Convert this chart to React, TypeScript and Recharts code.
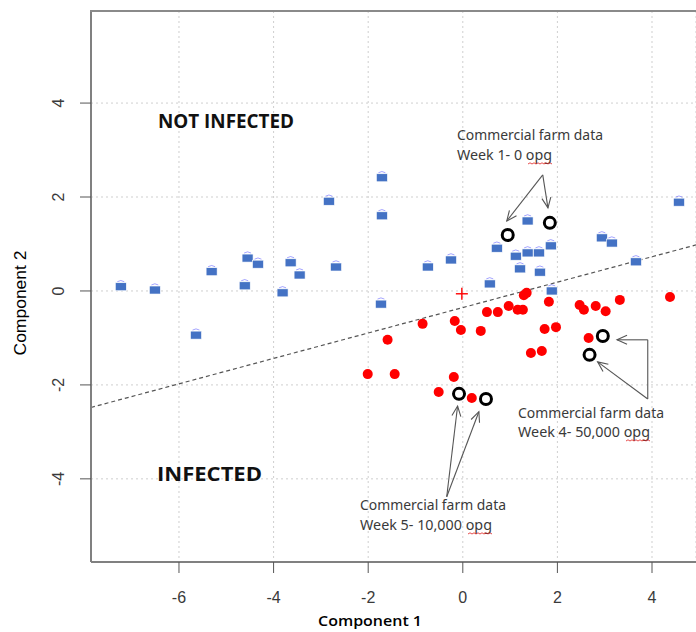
import React from "react";
import { ScatterChart, Scatter, XAxis, YAxis, CartesianGrid, ReferenceLine } from "recharts";

// PCA scores
const notInfectedX = [-7.23, -6.51, -5.64, -5.31, -4.61, -4.55, -4.33, -3.81, -3.64, -3.45, -2.83, -2.68, -1.71, -1.71, -1.73, -0.74, -0.25, 0.57, 0.72, 1.37, 1.12, 1.21, 1.37, 1.61, 1.63, 1.86, 1.88, 2.94, 3.15, 3.66, 4.57];
const notInfectedY = [0.09, 0.02, -0.94, 0.41, 0.11, 0.7, 0.57, -0.04, 0.6, 0.34, 1.91, 0.51, 2.41, 1.6, -0.28, 0.51, 0.66, 0.15, 0.91, 1.49, 0.74, 0.47, 0.81, 0.81, 0.4, 0.96, 0.0, 1.13, 1.02, 0.62, 1.89];

const infectedX = [1.35, 1.29, 1.82, 0.51, 0.74, 0.97, 1.16, 1.27, 2.47, 2.56, 2.81, 3.02, 3.32, 4.38, -0.85, -0.17, -0.04, 0.38, 1.73, 1.97, -1.59, 2.66, 1.44, 1.67, -2.01, -1.44, -0.19, -0.51, 0.19];
const infectedY = [-0.04, -0.09, -0.23, -0.45, -0.45, -0.32, -0.4, -0.4, -0.3, -0.4, -0.32, -0.43, -0.19, -0.13, -0.7, -0.64, -0.83, -0.85, -0.81, -0.77, -1.04, -1.0, -1.32, -1.28, -1.77, -1.77, -1.83, -2.15, -2.28];

const farmX = [0.95, 1.84, 2.96, 2.68, -0.08, 0.49];
const farmY = [1.19, 1.45, -0.96, -1.36, -2.19, -2.3];

const centroidX = [-0.02];
const centroidY = [-0.06];

// discriminant line end points
const boundaryX = [-7.86, 4.93];
const boundaryY = [-2.48, 0.98];

// annotation arrows: from (x1,y1) to (x2,y2), head at the end when flagged
const arrowX1 = [1.69, 1.69, 3.91, 3.91, 3.91, -0.34, -0.34];
const arrowY1 = [2.47, 2.47, -2.3, -1.04, -2.3, -4.38, -4.38];
const arrowX2 = [0.93, 1.8, 3.91, 3.26, 2.85, -0.11, 0.34];
const arrowY2 = [1.49, 1.77, -1.04, -1.04, -1.51, -2.45, -2.57];
const arrowHead = [true, true, false, true, true, true, true];

const xTicks = [-6, -4, -2, 0, 2, 4];
const yTicks = [-4, -2, 0, 2, 4];

const toPoints = (xs: number[], ys: number[]) => xs.map((x, i) => ({ x, y: ys[i] }));

const notInfected = toPoints(notInfectedX, notInfectedY);
const infected = toPoints(infectedX, infectedY);
const farm = toPoints(farmX, farmY);
const centroid = toPoints(centroidX, centroidY);

const BlueSquare = (p: any) => (
  <g>
    <path d={`M${p.cx - 3.5},${p.cy - 5} Q${p.cx},${p.cy - 7.5} ${p.cx + 3.5},${p.cy - 5}`} stroke="#5a5aff" strokeWidth={1} fill="none" opacity={0.55} />
    <rect x={p.cx - 5.5} y={p.cy - 4} width={11} height={8} fill="#4472C4" stroke="#fff" strokeWidth={0.6} />
  </g>
);

const RedDot = (p: any) => <circle cx={p.cx} cy={p.cy} r={5} fill="#FF0000" />;
const OpenCircle = (p: any) => <circle cx={p.cx} cy={p.cy} r={5.5} fill="none" stroke="#000" strokeWidth={3} />;
const Plus = (p: any) => (
  <g stroke="#FF0000" strokeWidth={1.4}>
    <line x1={p.cx - 6} y1={p.cy} x2={p.cx + 6} y2={p.cy} />
    <line x1={p.cx} y1={p.cy - 6} x2={p.cx} y2={p.cy + 6} />
  </g>
);

const arrowShape = (head: boolean) => (p: any) => {
  const { x1, y1, x2, y2 } = p;
  const a = Math.atan2(y2 - y1, x2 - x1);
  const L = 11;
  const s = 0.42;
  const hx1 = x2 - L * Math.cos(a - s);
  const hy1 = y2 - L * Math.sin(a - s);
  const hx2 = x2 - L * Math.cos(a + s);
  const hy2 = y2 - L * Math.sin(a + s);
  return (
    <g stroke="#555" strokeWidth={1.1} fill="none">
      <line x1={x1} y1={y1} x2={x2} y2={y2} />
      {head && <polyline points={`${hx1},${hy1} ${x2},${y2} ${hx2},${hy2}`} />}
    </g>
  );
};

const XTick = (p: any) => (
  <text x={p.x} y={597} textAnchor="middle" dominantBaseline="central" fontFamily="Liberation Sans, Arial" fontSize={16} fill="#3a3a3a">
    {p.payload.value}
  </text>
);

const YTick = (p: any) => (
  <text x={59} y={p.y} transform={`rotate(-90, 59, ${p.y})`} textAnchor="middle" dominantBaseline="central" fontFamily="Liberation Sans, Arial" fontSize={16} fill="#3a3a3a">
    {p.payload.value}
  </text>
);

const wavy = (x0: number, x1: number, y: number) => {
  let d = `M${x0},${y}`;
  let up = true;
  for (let x = x0 + 2; x <= x1; x += 2) {
    d += ` L${x},${up ? y - 1.2 : y}`;
    up = !up;
  }
  return <path d={d} stroke="#e02020" strokeWidth={0.8} fill="none" />;
};

const noteFont = { fontFamily: "Noto Sans, Open Sans, sans-serif", fontSize: 14, fill: "#3a3a3a" };

export default function App() {
  return (
    <div style={{ position: "fixed", left: 0, top: 0, width: 696, height: 632, overflow: "hidden", background: "#fff" }}>
      <ScatterChart width={696} height={632} margin={{ top: 11, right: 0, bottom: 0, left: 0 }}>
        <CartesianGrid stroke="#cfcfcf" strokeDasharray="2 3" />
        <XAxis
          type="number"
          dataKey="x"
          domain={[-7.86, 4.93]}
          ticks={xTicks}
          allowDataOverflow
          height={70}
          tickSize={11}
          tick={<XTick />}
          axisLine={{ stroke: "#808080", strokeWidth: 2 }}
          tickLine={{ stroke: "#555" }}
        />
        <YAxis
          type="number"
          dataKey="y"
          domain={[-5.77, 5.96]}
          ticks={yTicks}
          allowDataOverflow
          width={91}
          tickSize={11}
          tick={<YTick />}
          axisLine={{ stroke: "#808080", strokeWidth: 2 }}
          tickLine={{ stroke: "#555" }}
        />
        <ReferenceLine
          segment={[{ x: boundaryX[0], y: boundaryY[0] }, { x: boundaryX[1], y: boundaryY[1] }]}
          stroke="#555"
          strokeWidth={1.2}
          strokeDasharray="4 3"
        />
        <Scatter data={notInfected} shape={BlueSquare} isAnimationActive={false} />
        <Scatter data={infected} shape={RedDot} isAnimationActive={false} />
        <Scatter data={centroid} shape={Plus} isAnimationActive={false} />
        <Scatter data={farm} shape={OpenCircle} isAnimationActive={false} />
        {arrowX1.map((x, i) => (
          <ReferenceLine
            key={i}
            segment={[{ x, y: arrowY1[i] }, { x: arrowX2[i], y: arrowY2[i] }]}
            shape={arrowShape(arrowHead[i])}
          />
        ))}
      </ScatterChart>
      <svg width={696} height={632} style={{ position: "absolute", left: 0, top: 0, pointerEvents: "none" }}>
        <line x1={90} y1={11} x2={696} y2={11} stroke="#8a8a8a" strokeWidth={2} />
        <text x={158} y={128} fontFamily="Open Sans, sans-serif" fontWeight={700} fontSize={20} fill="#111" textLength={136} lengthAdjust="spacingAndGlyphs">NOT INFECTED</text>
        <text x={157} y={481} fontFamily="Open Sans, sans-serif" fontWeight={700} fontSize={20} fill="#111" textLength={105} lengthAdjust="spacingAndGlyphs">INFECTED</text>

        <text x={457} y={140} {...noteFont} textLength={146} lengthAdjust="spacingAndGlyphs">Commercial farm data</text>
        <text x={457} y={160} {...noteFont} textLength={95} lengthAdjust="spacingAndGlyphs">Week  1- 0 opg</text>
        {wavy(528, 552, 164)}

        <text x={518} y={418} {...noteFont} textLength={146} lengthAdjust="spacingAndGlyphs">Commercial farm data</text>
        <text x={518} y={437} {...noteFont} textLength={132} lengthAdjust="spacingAndGlyphs">Week  4- 50,000 opg</text>
        {wavy(626, 650, 441)}

        <text x={360} y={510} {...noteFont} textLength={146} lengthAdjust="spacingAndGlyphs">Commercial farm data</text>
        <text x={360} y={530} {...noteFont} textLength={132} lengthAdjust="spacingAndGlyphs">Week  5- 10,000 opg</text>
        {wavy(468, 492, 534)}

        <text x={370} y={626} textAnchor="middle" fontFamily="Open Sans, sans-serif" fontWeight={600} fontSize={15} fill="#000" textLength={104} lengthAdjust="spacingAndGlyphs">Component 1</text>
        <text x={0} y={0} transform="translate(26, 303) rotate(-90)" textAnchor="middle" fontFamily="Liberation Sans, Arial" fontSize={16} fill="#000" textLength={105} lengthAdjust="spacingAndGlyphs">Component 2</text>
      </svg>
    </div>
  );
}
